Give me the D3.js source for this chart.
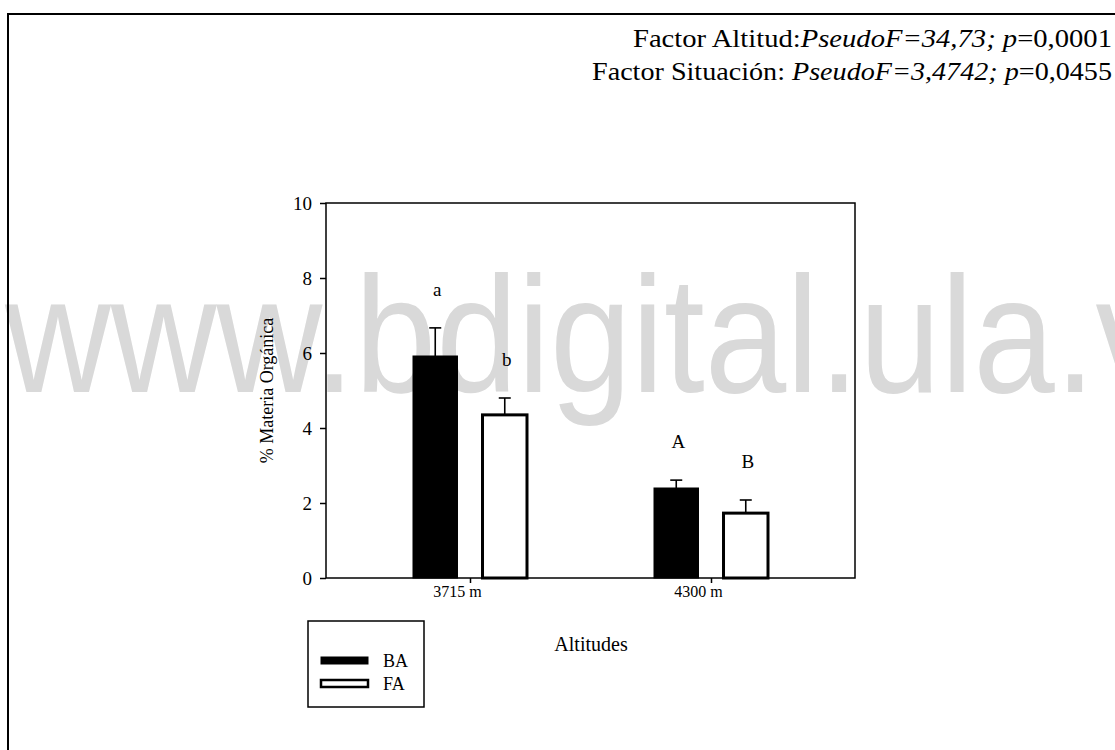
<!DOCTYPE html>
<html>
<head>
<meta charset="utf-8">
<script src="https://cdn.jsdelivr.net/npm/d3@7"></script>
<style>
	body { margin: 0; background: #fff; }
	svg { display: block; }
	text { font-family: 'Liberation Serif', serif; fill: #000; }
</style>
</head>
<body>
<div id="chart"></div>
<script>
// data
var altitudes = ['3715 m', '4300 m'];
var groups = ['BA', 'FA'];
var means = [[5.92, 4.35], [2.40, 1.73]];
var errors = [[0.75, 0.45], [0.21, 0.35]];
var letters = [['a', 'b'], ['A', 'B']];
var y_ticks = [0, 2, 4, 6, 8, 10];

function create_chart() {
	var width = 1115;
	var height = 750;

	var svg = d3.select('#chart')
		.append('svg')
		.attr('width', width)
		.attr('height', height);

	// watermark
	svg.append('text')
		.attr('x', 5)
		.attr('y', 392)
		.attr('textLength', 1245)
		.attr('lengthAdjust', 'spacingAndGlyphs')
		.style('font-family', 'Liberation Sans, Arial, sans-serif')
		.style('font-size', '165px')
		.style('fill', '#d9d9d9')
		.text('www.bdigital.ula.ve');

	// page frame (top and left edge)
	svg.append('path')
		.attr('d', 'M8,750 V14 H1115')
		.attr('fill', 'none')
		.attr('stroke', '#000')
		.attr('stroke-width', 2);

	// header
	var head = svg.append('g')
		.style('font-size', '25px');
	var line1 = head.append('text')
		.attr('x', 1112)
		.attr('y', 47)
		.attr('text-anchor', 'end')
		.attr('textLength', 479)
		.attr('lengthAdjust', 'spacingAndGlyphs');
	line1.append('tspan').text('Factor Altitud:');
	line1.append('tspan').style('font-style', 'italic').text('PseudoF=34,73; p');
	line1.append('tspan').text('=0,0001');
	var line2 = head.append('text')
		.attr('x', 1112)
		.attr('y', 80)
		.attr('text-anchor', 'end')
		.attr('textLength', 520)
		.attr('lengthAdjust', 'spacingAndGlyphs');
	line2.append('tspan').text('Factor Situación: ');
	line2.append('tspan').style('font-style', 'italic').text('PseudoF=3,4742; p');
	line2.append('tspan').text('=0,0455');

	var margin = {left: 326, right: 855, top: 203, bottom: 578};

	var x = d3.scalePoint()
		.domain(altitudes)
		.range([margin.left, margin.right])
		.padding(0.5975);

	var x1 = d3.scaleBand()
		.domain(groups)
		.range([-57, 57])
		.paddingInner(0.36);

	var y = d3.scaleLinear()
		.domain([0, 10])
		.range([margin.bottom, margin.top]);

	var rows = [];
	altitudes.forEach(function(a, i) {
		groups.forEach(function(g, j) {
			rows.push({alt: a, grp: g, val: means[i][j], err: errors[i][j], letter: letters[i][j]});
		});
	});

	// y axis
	var yAxis = svg.append('g')
		.attr('transform', 'translate(' + margin.left + ',0)')
		.call(d3.axisLeft(y).tickValues(y_ticks).tickSize(6).tickPadding(8));
	yAxis.select('.domain').remove();
	yAxis.selectAll('line').attr('stroke-width', 1.5);
	yAxis.selectAll('text')
		.style('font-family', 'Liberation Serif, serif')
		.style('font-size', '19px');

	// x axis
	var xAxis = svg.append('g')
		.attr('transform', 'translate(0,' + margin.bottom + ')')
		.call(d3.axisBottom(x).tickSize(5).tickPadding(3));
	xAxis.select('.domain').remove();
	xAxis.selectAll('line').attr('stroke-width', 1.5);
	xAxis.selectAll('text')
		.attr('dx', -13)
		.style('font-family', 'Liberation Serif, serif')
		.style('font-size', '16px');

	// bars
	svg.append('g')
		.selectAll('rect')
		.data(rows)
		.enter()
		.append('rect')
			.attr('x', function(d) { return x(d.alt) + x1(d.grp); })
			.attr('y', function(d) { return y(d.val); })
			.attr('width', x1.bandwidth())
			.attr('height', function(d) { return y(0) - y(d.val); })
			.attr('fill', function(d) { return d.grp == 'BA' ? '#000' : '#fff'; })
			.attr('stroke', '#000')
			.attr('stroke-width', function(d) { return d.grp == 'BA' ? 1 : 3; });

	// error bars (upper only)
	var err = svg.append('g')
		.selectAll('g')
		.data(rows)
		.enter()
		.append('g')
			.attr('transform', function(d) { return 'translate(' + (x(d.alt) + x1(d.grp) + x1.bandwidth() / 2) + ',0)'; });
	err.append('line')
		.attr('y1', function(d) { return y(d.val); })
		.attr('y2', function(d) { return y(d.val + d.err); })
		.attr('stroke', '#000')
		.attr('stroke-width', 1.6);
	err.append('line')
		.attr('x1', -6)
		.attr('x2', 6)
		.attr('y1', function(d) { return y(d.val + d.err); })
		.attr('y2', function(d) { return y(d.val + d.err); })
		.attr('stroke', '#000')
		.attr('stroke-width', 1.6);

	// group letters
	svg.append('g')
		.selectAll('text')
		.data(rows)
		.enter()
		.append('text')
			.attr('x', function(d) { return x(d.alt) + x1(d.grp) + x1.bandwidth() / 2 + 2; })
			.attr('y', function(d) { return y(d.val + d.err) - 32; })
			.attr('text-anchor', 'middle')
			.style('font-size', '19px')
			.text(function(d) { return d.letter; });

	// plot frame
	svg.append('rect')
		.attr('x', margin.left)
		.attr('y', margin.top)
		.attr('width', margin.right - margin.left)
		.attr('height', margin.bottom - margin.top)
		.attr('fill', 'none')
		.attr('stroke', '#000')
		.attr('stroke-width', 1.5);

	// axis titles
	svg.append('text')
		.attr('transform', 'translate(273,' + ((margin.top + margin.bottom) / 2) + ') rotate(-90)')
		.attr('text-anchor', 'middle')
		.style('font-size', '18px')
		.text('% Materia Orgánica');

	svg.append('text')
		.attr('x', 591)
		.attr('y', 651)
		.attr('text-anchor', 'middle')
		.style('font-size', '20px')
		.text('Altitudes');

	// legend
	var legend = svg.append('g');
	legend.append('rect')
		.attr('x', 308)
		.attr('y', 621)
		.attr('width', 116)
		.attr('height', 86)
		.attr('fill', 'none')
		.attr('stroke', '#000')
		.attr('stroke-width', 1.5);
	var item = legend.selectAll('.item')
		.data(groups)
		.enter()
		.append('g')
			.attr('class', 'item')
			.attr('transform', function(d, i) { return 'translate(0,' + (660 + i * 23) + ')'; });
	item.append('rect')
		.attr('x', 321)
		.attr('y', -3)
		.attr('width', 47)
		.attr('height', 7)
		.attr('fill', function(d) { return d == 'BA' ? '#000' : '#fff'; })
		.attr('stroke', '#000')
		.attr('stroke-width', function(d) { return d == 'BA' ? 1 : 2.5; });
	item.append('text')
		.attr('x', 383)
		.attr('y', 7)
		.style('font-size', '18px')
		.text(function(d) { return d; });
}

create_chart();
</script>
</body>
</html>
